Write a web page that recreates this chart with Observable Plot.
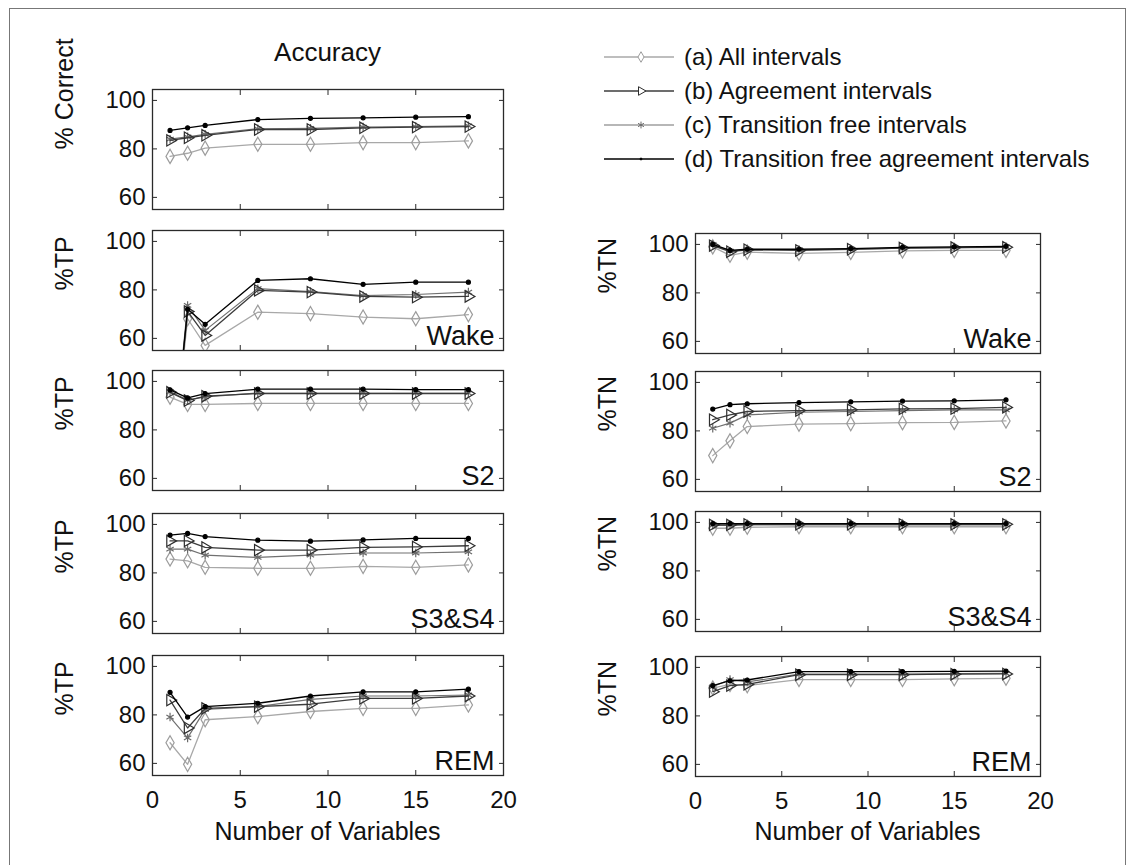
<!DOCTYPE html>
<html><head><meta charset="utf-8">
<script src="https://cdn.jsdelivr.net/npm/d3@7"></script>
<script src="https://cdn.jsdelivr.net/npm/@observablehq/plot@0.6"></script>
<style>
body{margin:0;background:#fff;font-family:"Liberation Sans",Arial,Helvetica,sans-serif;color:#111;}
#wrap{position:relative;width:1130px;height:865px;overflow:hidden;background:#fff;}
.abs{position:absolute;white-space:nowrap;}
</style></head><body><div id="wrap"></div>
<script>
// ---------------- data ----------------
const xs = [1, 2, 3, 6, 9, 12, 15, 18];
const seriesNames = ["(a) All intervals", "(b) Agreement intervals", "(c) Transition free intervals", "(d) Transition free agreement intervals"];
const xTicks = [0, 5, 10, 15, 20];
const yTicks = [60, 80, 100];

// each panel: [a, b, c, d]
const accuracy = [
  [76.9, 78.2, 80.3, 81.9, 81.9, 82.6, 82.6, 83.3],
  [83.5, 84.6, 85.6, 88.0, 88.0, 88.7, 89.0, 89.2],
  [84.0, 85.0, 86.0, 88.3, 88.5, 89.0, 89.2, 89.5],
  [87.6, 88.7, 89.7, 92.1, 92.6, 92.8, 93.1, 93.3]
];
const wakeTP = [
  [0, 68.1, 57.1, 70.8, 70.2, 68.8, 68.1, 69.8],
  [0, 71.1, 61.2, 79.8, 79.1, 77.3, 77.0, 77.3],
  [0, 73.6, 63.3, 80.5, 79.3, 77.6, 78.1, 79.1],
  [0, 72.0, 65.8, 83.9, 84.6, 82.3, 83.2, 83.2]
];
const s2TP = [
  [93.5, 90.5, 90.5, 90.9, 90.9, 90.9, 90.9, 90.9],
  [95.5, 92.1, 93.9, 95.0, 95.0, 95.0, 95.0, 95.0],
  [95.8, 92.3, 93.6, 95.2, 95.2, 95.2, 95.2, 95.2],
  [96.5, 93.2, 95.0, 96.8, 96.8, 96.8, 96.6, 96.6]
];
const s34TP = [
  [85.7, 85.0, 82.3, 81.9, 81.9, 82.7, 82.3, 83.3],
  [93.2, 93.2, 90.5, 89.4, 89.4, 90.5, 90.7, 91.2],
  [89.8, 89.8, 87.3, 86.4, 87.3, 88.2, 88.2, 88.7],
  [95.6, 96.3, 95.0, 93.5, 93.1, 93.6, 94.2, 94.2]
];
const remTP = [
  [68.5, 59.6, 78.0, 79.3, 81.4, 82.7, 82.7, 84.1],
  [86.1, 74.6, 82.7, 83.4, 84.4, 86.8, 86.8, 87.8],
  [79.1, 70.5, 82.3, 83.4, 86.4, 87.8, 87.8, 88.2],
  [89.3, 79.1, 83.4, 84.8, 87.8, 89.5, 89.5, 90.6]
];
const wakeTN = [
  [99.0, 95.5, 96.8, 96.3, 96.7, 97.3, 97.5, 97.5],
  [99.5, 97.0, 97.8, 97.5, 98.0, 98.5, 98.7, 98.8],
  [100, 97.2, 97.8, 97.8, 98.0, 98.5, 98.7, 99.0],
  [100, 97.5, 98.0, 98.0, 98.3, 98.8, 99.0, 99.2]
];
const s2TN = [
  [69.8, 75.9, 81.8, 82.8, 83.0, 83.4, 83.5, 84.1],
  [84.6, 86.6, 88.0, 88.4, 88.7, 89.1, 89.2, 89.7],
  [81.1, 83.2, 86.6, 87.7, 88.0, 88.4, 88.7, 88.7],
  [89.0, 90.8, 91.2, 91.7, 92.0, 92.3, 92.4, 92.8]
];
const s34TN = [
  [97.6, 97.6, 98.0, 98.2, 98.2, 98.2, 98.2, 98.2],
  [99.0, 99.0, 99.2, 99.2, 99.2, 99.2, 99.2, 99.2],
  [98.8, 98.8, 99.0, 99.0, 99.0, 99.0, 99.0, 99.0],
  [99.5, 99.5, 99.5, 99.5, 99.5, 99.5, 99.5, 99.5]
];
const remTN = [
  [91.5, 93.0, 92.5, 95.0, 95.0, 95.0, 95.3, 95.5],
  [90.0, 92.5, 93.0, 97.0, 97.0, 97.0, 97.2, 97.3],
  [92.0, 95.0, 94.0, 97.2, 97.2, 97.2, 97.4, 97.5],
  [92.5, 94.5, 94.8, 98.3, 98.3, 98.3, 98.4, 98.5]
];

// ---------------- styles ----------------
const FONT = '"Liberation Sans", Arial, Helvetica, sans-serif';
const styles = [
  {line: "#a8a8a8", mark: "#9c9c9c", symbol: "diamond", r: 4.3, rotate: 0, fill: "none", sw: 1.3},
  {line: "#3c3c3c", mark: "#2e2e2e", symbol: "triangle", r: 4.2, rotate: 90, fill: "none", sw: 1.3},
  {line: "#707070", mark: "#6a6a6a", symbol: "asterisk", r: 4.0, rotate: 0, fill: "none", sw: 1.2},
  {line: "#000000", mark: "#000000", symbol: "circle", r: 2.0, rotate: 0, fill: "#000", sw: 1.3}
];

const wrap = document.getElementById("wrap");

function panel(vals, fx, fy, fw, fh, ylabel, label, showX) {
  const mL = 110, mR = 12, mT = 12, mB = showX ? 45 : 12;
  const marks = [Plot.frame({stroke: "#2a2a2a", strokeWidth: 1.3})];
  const order = [0, 2, 1, 3];
  for (const si of order) {
    const st = styles[si];
    const data = vals[si].map((v, i) => ({x: xs[i], y: v}));
    marks.push(Plot.line(data, {x: "x", y: "y", stroke: st.line, strokeWidth: st.sw, clip: true}));
    marks.push(Plot.dot(data, {x: "x", y: "y", symbol: st.symbol, r: st.r, rotate: st.rotate,
      stroke: st.mark, fill: st.fill, strokeWidth: 1.2, clip: true}));
  }
  marks.push(
    Plot.axisY({anchor: "left", ticks: yTicks, tickSize: -5, tickPadding: 12, label: null, fontSize: 24, stroke: "#2a2a2a"}),
    Plot.axisY({anchor: "right", ticks: yTicks, tickSize: -5, tickFormat: () => "", label: null, stroke: "#2a2a2a"}),
    Plot.axisX({anchor: "bottom", ticks: xTicks, tickSize: -5, tickPadding: 20, label: null, fontSize: 24,
      tickFormat: showX ? (d => String(d)) : (() => ""), stroke: "#2a2a2a"}),
    Plot.axisX({anchor: "top", ticks: xTicks, tickSize: -5, tickFormat: () => "", label: null, stroke: "#2a2a2a"})
  );
  if (ylabel) marks.push(Plot.text([ylabel], {text: d => d, frameAnchor: "left", dx: -88, rotate: -90, fontSize: 25, fill: "#111"}));
  if (label) marks.push(Plot.text([label], {text: d => d, frameAnchor: "bottom-right", dx: -9, dy: -6, fontSize: 27,
    textAnchor: "end", lineAnchor: "bottom", fill: "#111"}));
  const chart = Plot.plot({
    width: mL + fw + mR, height: mT + fh + mB,
    marginLeft: mL, marginRight: mR, marginTop: mT, marginBottom: mB,
    x: {domain: [0, 20]}, y: {domain: [55, 104.5]},
    style: {fontFamily: FONT, fontSize: "24px", color: "#111", background: "transparent", overflow: "visible"},
    marks
  });
  chart.style.position = "absolute";
  chart.style.left = (fx - mL) + "px";
  chart.style.top = (fy - mT) + "px";
  wrap.appendChild(chart);
}

// layout
const LX = 152, LW = 351, RX = 695, RW = 345, PH = 120;
const leftTops = [89, 230, 370, 513, 655];
const rightTops = [233, 371, 511, 656];

panel(accuracy, LX, leftTops[0], LW, PH, "% Correct", null, false);
panel(wakeTP, LX, leftTops[1], LW, PH, "%TP", "Wake", false);
panel(s2TP, LX, leftTops[2], LW, PH, "%TP", "S2", false);
panel(s34TP, LX, leftTops[3], LW, PH, "%TP", "S3&S4", false);
panel(remTP, LX, leftTops[4], LW, PH, "%TP", "REM", true);
panel(wakeTN, RX, rightTops[0], RW, PH, "%TN", "Wake", false);
panel(s2TN, RX, rightTops[1], RW, PH, "%TN", "S2", false);
panel(s34TN, RX, rightTops[2], RW, PH, "%TN", "S3&S4", false);
panel(remTN, RX, rightTops[3], RW, PH, "%TN", "REM", true);

// texts
function addText(txt, x, y, size, anchor) {
  const d = document.createElement("div");
  d.className = "abs";
  d.textContent = txt;
  d.style.fontSize = size + "px";
  d.style.lineHeight = "1";
  d.style.top = (y - size / 2) + "px";
  if (anchor === "middle") { d.style.left = x + "px"; d.style.transform = "translateX(-50%)"; }
  else d.style.left = x + "px";
  wrap.appendChild(d);
}
addText("Accuracy", LX + LW / 2, 52, 26, "middle");
addText("Number of Variables", LX + LW / 2, 831, 25, "middle");
addText("Number of Variables", RX + RW / 2, 831, 25, "middle");

// legend
const legendYs = [57, 91, 125, 159];
const ns = "http://www.w3.org/2000/svg";
const symMap = {diamond: d3.symbolDiamond, triangle: d3.symbolTriangle, asterisk: d3.symbolAsterisk, circle: d3.symbolCircle};
seriesNames.forEach((name, i) => {
  const st = styles[i];
  const svg = document.createElementNS(ns, "svg");
  svg.setAttribute("width", 80); svg.setAttribute("height", 24);
  svg.style.position = "absolute"; svg.style.left = "600px"; svg.style.top = (legendYs[i] - 12) + "px";
  const ln = document.createElementNS(ns, "line");
  ln.setAttribute("x1", 4); ln.setAttribute("x2", 74); ln.setAttribute("y1", 12); ln.setAttribute("y2", 12);
  ln.setAttribute("stroke", st.line); ln.setAttribute("stroke-width", st.sw);
  svg.appendChild(ln);
  const p = document.createElementNS(ns, "path");
  const size = i === 3 ? 3 : Math.PI * 3.2 * 3.2;
  p.setAttribute("d", d3.symbol(symMap[st.symbol], size)());
  p.setAttribute("transform", `translate(41,12) rotate(${st.rotate})`);
  p.setAttribute("stroke", st.mark); p.setAttribute("fill", i === 3 ? "#000" : "#fff"); p.setAttribute("stroke-width", 1);
  svg.appendChild(p);
  wrap.appendChild(svg);
  addText(name, 684, legendYs[i], 24, "start");
});

// outer border
const b = document.createElement("div");
b.className = "abs";
b.style.left = "9px"; b.style.top = "8px"; b.style.width = "1117px"; b.style.height = "880px";
b.style.border = "1.5px solid #777"; b.style.boxSizing = "border-box";
wrap.appendChild(b);
</script></body></html>
